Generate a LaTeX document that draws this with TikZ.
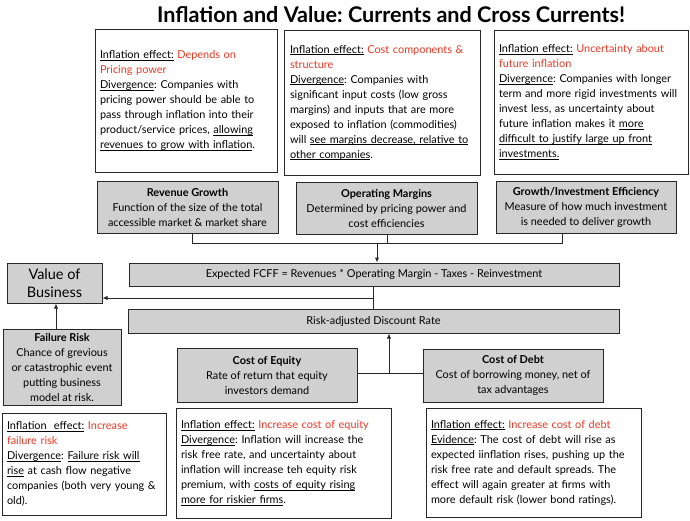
\documentclass[tikz,border=0pt]{standalone}
\usepackage{fontspec}
\setmainfont{Lato}
\usetikzlibrary{arrows.meta}
\definecolor{infred}{RGB}{238,55,35}
\definecolor{boxgray}{RGB}{208,208,208}
\definecolor{edge}{RGB}{40,40,40}
\newsavebox\ulbox
\newcommand\ulx[1]{\leavevmode\sbox\ulbox{#1}\rlap{\rule[-1.8pt]{\wd\ulbox}{0.6pt}}\usebox\ulbox}
\newcommand\rd[1]{\textcolor{infred}{#1}}
\frenchspacing
\begin{document}
\begin{tikzpicture}[x=1pt,y=-1pt,
  txt/.style={font=\fontsize{10.9}{15}\selectfont},
  wbox/.style={txt,draw=edge,line width=1pt,fill=white,align=left,inner xsep=5pt,inner ysep=0pt},
  gbox/.style={txt,draw=edge,line width=1pt,fill=boxgray,align=center,inner sep=0pt},
  conn/.style={draw=edge,line width=1pt},
  arr/.style={conn,-{Latex[length=5pt,width=4.5pt]}}]
\useasboundingbox (0,0) rectangle (690,520);
\fill[white] (0,0) rectangle (690,520);

\node[font=\bfseries\fontsize{21.6}{25}\selectfont] (title) at (391,15) {Inflation and Value: Currents and Cross Currents!};

% top inflation boxes
\node[wbox,minimum width=182pt,minimum height=143pt,text width=172pt] (ie1) at (186,100.5) {%
\ulx{Inflation effect:} \rd{Depends on}\\
\rd{Pricing power}\\
\ulx{Divergence}: Companies with\\
pricing power should be able to\\
pass through inflation into their\\
product/service prices, \ulx{allowing}\\
\ulx{revenues to grow with inflation}.};

\node[wbox,minimum width=196pt,minimum height=145pt,text width=184pt,inner xsep=6pt] (ie2) at (382,102.5) {%
\ulx{Inflation effect:} \rd{Cost components \&}\\
\rd{structure}\\
\ulx{Divergence}: Companies with\\
significant input costs (low gross\\
margins) and inputs that are more\\
exposed to inflation (commodities)\\
will \ulx{see margins decrease, relative to}\\
\ulx{other companies}.};

\node[wbox,minimum width=194pt,minimum height=144pt,text width=184pt] (ie3) at (591,102) {%
\ulx{Inflation effect:} \rd{Uncertainty about}\\
\rd{future inflation}\\
\ulx{Divergence}: Companies with longer\\
term and more rigid investments will\\
invest less, as uncertainty about\\
future inflation makes it \ulx{more}\\
\ulx{difficult to justify large up front}\\
\ulx{investments.}};

% gray driver boxes
\node[gbox,minimum width=181pt,minimum height=52pt] (rev) at (187.5,207) {\textbf{Revenue Growth}\\Function of the size of the total\\accessible market \& market share};
\node[gbox,minimum width=181pt,minimum height=52pt] (op) at (386.5,208) {\textbf{Operating Margins}\\Determined by pricing power and\\cost efficiencies};
\node[gbox,minimum width=180pt,minimum height=52pt] (gro) at (586,207) {\textbf{Growth/Investment Efficiency}\\Measure of how much investment\\is needed to deliver growth};

\node[gbox,minimum width=490pt,minimum height=23pt] (fcff) at (374,274.5) {Expected FCFF = Revenues * Operating Margin - Taxes - Reinvestment};
\node[gbox,minimum width=491pt,minimum height=24pt] (risk) at (373.5,321) {Risk-adjusted Discount Rate};

\node[gbox,minimum width=95pt,minimum height=40pt,font=\fontsize{14.5}{18}\selectfont] (vob) at (54.5,283) {Value of\\Business};
\node[gbox,minimum width=118pt,minimum height=76pt] (fail) at (62,367) {\textbf{Failure Risk}\\Chance of grevious\\or catastrophic event\\putting business\\model at risk.};
\node[gbox,minimum width=180pt,minimum height=54pt] (coe) at (267,375) {\textbf{Cost of Equity}\\Rate of return that equity\\investors demand};
\node[gbox,minimum width=180pt,minimum height=53pt] (cod) at (513,375.5) {\textbf{Cost of Debt}\\Cost of borrowing money, net of\\tax advantages};

% bottom inflation boxes
\node[wbox,minimum width=164pt,minimum height=102pt,text width=154pt] (ief) at (84,464) {%
\ulx{Inflation\ \ effect:} \rd{Increase}\\
\rd{failure risk}\\
\ulx{Divergence}: \ulx{Failure risk will}\\
\ulx{rise} at cash flow negative\\
companies (both very young \&\\
old).};

\node[wbox,minimum width=215pt,minimum height=110pt,text width=205pt] (iee) at (283.5,463) {%
\ulx{Inflation effect:} \rd{Increase cost of equity}\\
\ulx{Divergence}: Inflation will increase the\\
risk free rate, and uncertainty about\\
inflation will increase teh equity risk\\
premium, with \ulx{costs of equity rising}\\
\ulx{more for riskier firms}.};

\node[wbox,minimum width=215pt,minimum height=109pt,text width=205pt] (ied) at (533.5,462.5) {%
\ulx{Inflation effect:} \rd{Increase cost of debt}\\
\ulx{Evidence}: The cost of debt will rise as\\
expected iinflation rises, pushing up the\\
risk free rate and default spreads. The\\
effect will again greater at firms with\\
more default risk (lower bond ratings).};

% connectors
\coordinate (bl) at (192,243);
\coordinate (bm) at (387,243);
\coordinate (br) at (562,243);
\coordinate (ba) at (377,243);
\draw[conn] (bl |- rev.south) -- (bl) -- (br) -- (br |- gro.south);
\draw[conn] (bm |- op.south) -- (bm);
\draw[arr] (ba) -- (ba |- fcff.north);

\coordinate (fj) at (373,298);
\draw[conn] (fj |- fcff.south) -- (fj |- risk.north);
\draw[arr] (fj) -- (fj -| vob.east);

\coordinate (fx) at (56,320);
\draw[arr] (fx |- fail.north) -- (fx |- vob.south);

\coordinate (cj) at (389,373);
\draw[conn] (cj -| coe.east) -- (cj -| cod.west);
\draw[arr] (cj) -- (cj |- risk.south);
\end{tikzpicture}
\end{document}
